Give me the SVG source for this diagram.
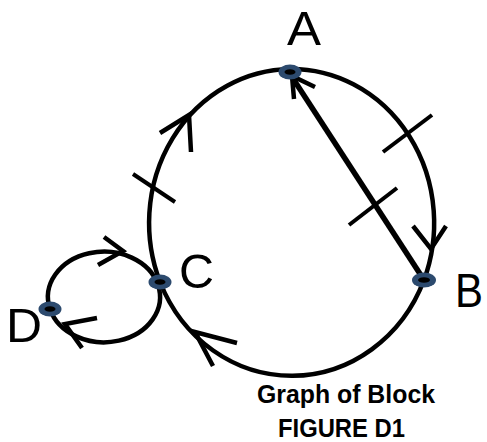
<svg xmlns="http://www.w3.org/2000/svg" width="487" height="442" viewBox="0 0 487 442">
<style>
.edge{fill:none;stroke:#000;stroke-width:4.5;stroke-linecap:butt}
.chord{fill:none;stroke:#000;stroke-width:5.5}
.tick{fill:none;stroke:#000;stroke-width:4}
.head{fill:none;stroke:#000;stroke-width:4.5;stroke-linejoin:miter}
.dot{fill:#2c4a6e}
.core{fill:#000}
.lbl{font-family:"Liberation Sans",Arial,sans-serif;font-size:49px;fill:#000}
.cap{font-family:"Liberation Sans",Arial,sans-serif;font-size:25px;font-weight:bold;fill:#000}
</style>
<rect width="487" height="442" fill="#fff"/>
<g id="connectors">
<path class="edge" d="M290,69 A143,154 0 0 1 424,280"/>
<path class="edge" d="M424,280 A143,154 0 0 1 160,282"/>
<path class="edge" d="M160,282 A143,154 0 0 1 290,69"/>
<path class="edge" d="M50,309 A55,44.5 0 1 1 158,285"/>
<path class="edge" d="M158,285 A55,44.5 0 0 1 50,309"/>
<line class="chord" x1="424" y1="280" x2="292" y2="77"/>
<polyline class="head" points="294,99 292,76 315,87"/>
<polyline class="head" points="413,226 431,249 446,226"/>
<polyline class="head" points="160,133 189,115 191,152"/>
<polyline class="head" points="237,343 195,332 213,366"/>
<polyline class="head" points="104,237 123,251 98,265"/>
<polyline class="head" points="97,318 65,324 82,348"/>
<line class="tick" x1="383" y1="152" x2="432" y2="115"/>
<line class="tick" x1="349" y1="225" x2="397" y2="188"/>
<line class="tick" x1="133" y1="174" x2="175" y2="202"/>
</g>
<g id="node-A">
<ellipse class="dot" cx="290" cy="72" rx="11.5" ry="7.5"/>
<ellipse class="core" cx="290" cy="72" rx="5.5" ry="2.8"/>
<text class="lbl" x="287" y="45" textLength="34" lengthAdjust="spacingAndGlyphs">A</text>
</g>
<g id="node-B">
<ellipse class="dot" cx="424" cy="280" rx="12" ry="7.5"/>
<ellipse class="core" cx="424" cy="280" rx="6" ry="2.8"/>
<text class="lbl" x="455" y="307" textLength="28" lengthAdjust="spacingAndGlyphs">B</text>
</g>
<g id="node-C">
<ellipse class="dot" cx="160" cy="282" rx="11.5" ry="7.5"/>
<ellipse class="core" cx="160" cy="282" rx="5.5" ry="2.8"/>
<text class="lbl" x="179" y="288" textLength="35" lengthAdjust="spacingAndGlyphs">C</text>
</g>
<g id="node-D">
<ellipse class="dot" cx="50" cy="309" rx="11.5" ry="7.5"/>
<ellipse class="core" cx="50" cy="309" rx="5.5" ry="2.8"/>
<text class="lbl" x="6" y="342" textLength="36" lengthAdjust="spacingAndGlyphs">D</text>
</g>
<g id="caption">
<text class="cap" x="257" y="403" textLength="178" lengthAdjust="spacingAndGlyphs">Graph of Block</text>
<text class="cap" x="278" y="437" textLength="127" lengthAdjust="spacingAndGlyphs">FIGURE D1</text>
</g>
</svg>
